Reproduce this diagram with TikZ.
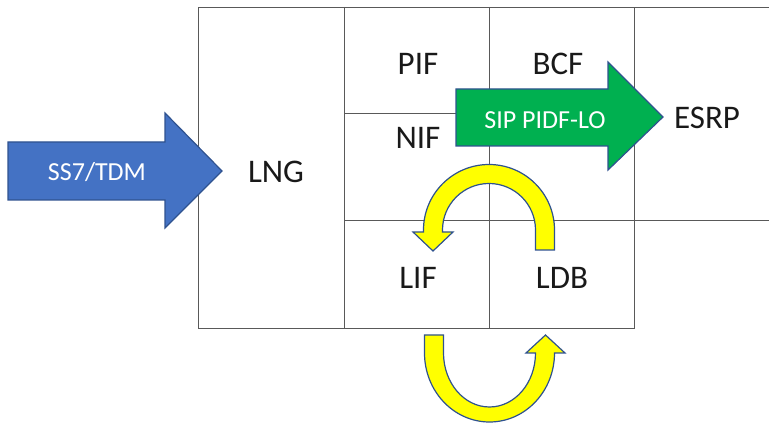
\documentclass[tikz,border=0pt]{standalone}
\usepackage{fontspec}
\setmainfont{Carlito}
\begin{document}
\begin{tikzpicture}[x=1pt,y=-1pt,
  grid/.style={draw=black!65,line width=0.9pt},
  lbl/.style={font=\fontsize{33}{36}\selectfont,text=black!90,inner sep=0pt},
  atext/.style={font=\fontsize{26}{28}\selectfont,text=white,inner sep=0pt},
  blockarrow/.style={draw=ArrowEdge,line width=1.2pt,line join=miter},
]
\definecolor{ArrowEdge}{HTML}{2F528F}
\definecolor{BlueFill}{HTML}{4472C4}
\definecolor{GreenFill}{HTML}{00B050}
\definecolor{YellowFill}{HTML}{FFFF00}
\useasboundingbox (0,0) rectangle (769,427);
% grid
\draw[grid] (769,7) -- (198,7) -- (198,328) -- (634,328) -- (634,7);
\draw[grid] (344,7) -- (344,328);
\draw[grid] (489,7) -- (489,328);
\draw[grid] (344,113) -- (489,113);
\draw[grid] (344,220) -- (769,220);
% blue arrow
\draw[blockarrow,fill=BlueFill] (8,142) -- (165,142) -- (165,113) -- (222,171) -- (165,228) -- (165,200) -- (8,200) -- cycle;
\node[atext] (ss7) at (97,172) {SS7/TDM};
% green arrow
\draw[blockarrow,fill=GreenFill] (456,89) -- (608,89) -- (608,62) -- (663,117) -- (608,170) -- (608,146) -- (456,146) -- cycle;
\node[atext] (sip) at (545,120) {SIP PIDF-LO};
% upper yellow arrow
\draw[blockarrow,fill=YellowFill] (554.5,250) -- (554.5,230)
  arc[start angle=0,end angle=-180,radius=65.5] -- (423.5,232) -- (413,232) -- (433,251) -- (453,232) -- (442.5,232) -- (442.5,230)
  arc[start angle=-180,end angle=0,radius=46.5] -- (535.5,250) -- cycle;
% lower yellow arrow
\draw[blockarrow,fill=YellowFill] (424.5,335) -- (424.5,353)
  arc[start angle=180,end angle=0,x radius=65,y radius=69] -- (565,353) -- (545.5,335) -- (526,353) -- (535.5,353)
  arc[start angle=0,end angle=180,x radius=46,y radius=54] -- (443.5,335) -- cycle;
% labels
\node[lbl] (lng) at (276,172) {LNG};
\node[lbl] (pif) at (418,64) {PIF};
\node[lbl] (bcf) at (558,64) {BCF};
\node[lbl] (nif) at (418,138) {NIF};
\node[lbl] (esrp) at (707,118) {ESRP};
\node[lbl] (lif) at (418,278) {LIF};
\node[lbl] (ldb) at (562,278) {LDB};
\end{tikzpicture}
\end{document}
